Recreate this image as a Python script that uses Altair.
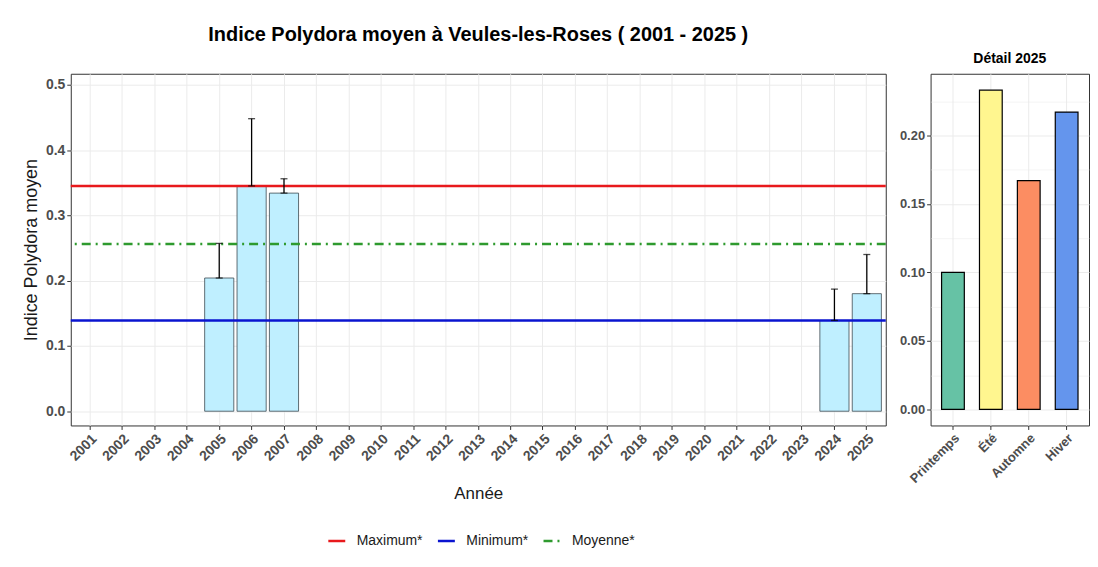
import altair as alt
import pandas as pd

FONT = "Liberation Sans"

# ---- data ----
years = [str(y) for y in range(2001, 2026)]
bar_years = ["2005", "2006", "2007", "2024", "2025"]
bar_means = [0.204, 0.345, 0.334, 0.139, 0.180]
bar_uppers = [0.257, 0.448, 0.356, 0.187, 0.240]

ref_labels = ["Maximum*", "Minimum*", "Moyenne*"]
ref_values = [0.345, 0.139, 0.256]
ref_colors = ["#E8191C", "#0A14D0", "#2E9A2E"]
ref_dashes = [[1, 0], [1, 0], [9, 5, 2, 5]]

seasons = ["Printemps", "Été", "Automne", "Hiver"]
season_values = [0.100, 0.233, 0.167, 0.217]
season_colors = ["#66C2A5", "#FFF68F", "#FC8D62", "#6495ED"]

main_grid = [0.0, 0.05, 0.1, 0.15, 0.2, 0.25, 0.3, 0.35, 0.4, 0.45, 0.5]
det_grid = [0.0, 0.025, 0.05, 0.075, 0.1, 0.125, 0.15, 0.175, 0.2, 0.225]

bars_df = pd.DataFrame({"annee": bar_years, "moyen": bar_means, "haut": bar_uppers})
ref_df = pd.DataFrame({"type": ref_labels, "valeur": ref_values})
det_df = pd.DataFrame({"saison": seasons, "valeur": season_values})

# ---- main panel ----
major_main = "round(datum.value*100) % 10 == 0"
xmain = alt.Scale(domain=years, paddingInner=0.1, paddingOuter=0.135)
ymain = alt.Scale(domain=[-0.0218, 0.5168], nice=False, zero=False)

x_axis = alt.Axis(
    title="Année", labelAngle=-45, labelAlign="right", labelBaseline="top",
    labelFontSize=14, titleFontSize=17, titlePadding=22, labelPadding=2, grid=True,
)
y_axis = alt.Axis(
    title="Indice Polydora moyen", values=main_grid, format=".1f",
    labelExpr=f"({major_main}) ? datum.label : ''",
    gridWidth={"condition": {"test": major_main, "value": 1}, "value": 0.5},
    tickOpacity={"condition": {"test": major_main, "value": 1}, "value": 0},
    labelFontSize=14, titleFontSize=18, titlePadding=5,
)

base = alt.Chart(bars_df)
bars = base.mark_bar(fill="#BFEFFF", stroke="#3d4a50", strokeWidth=0.8).encode(
    x=alt.X("annee:N", scale=xmain, axis=x_axis, sort=years),
    y=alt.Y("moyen:Q", scale=ymain, axis=y_axis),
)
err = base.mark_rule(color="black", strokeWidth=1.3).encode(
    x=alt.X("annee:N", sort=years), y="moyen:Q", y2="haut:Q"
)
cap_top = base.mark_tick(color="black", thickness=1.3, size=7).encode(
    x=alt.X("annee:N", sort=years), y="haut:Q"
)
cap_bot = base.mark_tick(color="black", thickness=1.3, size=7).encode(
    x=alt.X("annee:N", sort=years), y="moyen:Q"
)

leg = alt.Legend(
    title=None, orient="none", direction="horizontal", legendX=257, legendY=459,
    symbolType="stroke", symbolSize=289, symbolStrokeWidth=2.5,
    labelFontSize=14, labelFont=FONT, labelColor="#1a1a1a", labelOffset=10,
    columnPadding=9,
)
refs = alt.Chart(ref_df).mark_rule(strokeWidth=2.6).encode(
    y=alt.Y("valeur:Q"),
    color=alt.Color("type:N", scale=alt.Scale(domain=ref_labels, range=ref_colors), legend=leg),
    strokeDash=alt.StrokeDash("type:N", scale=alt.Scale(domain=ref_labels, range=ref_dashes), legend=leg),
)

main = alt.layer(bars, refs, err, cap_top, cap_bot).properties(
    width=818, height=353,
    title=alt.TitleParams(
        "Indice Polydora moyen à Veules-les-Roses ( 2001 - 2025 )",
        fontSize=20, fontWeight="bold", font=FONT, anchor="middle", offset=29, color="black",
    ),
)

# ---- detail panel ----
major_det = "round(datum.value*1000) % 50 == 0"
detail = alt.Chart(det_df).mark_bar(stroke="black", strokeWidth=1.2).encode(
    x=alt.X(
        "saison:N", sort=seasons,
        scale=alt.Scale(domain=seasons, paddingInner=0.4, paddingOuter=0.29),
        axis=alt.Axis(title=None, labelAngle=-45, labelAlign="right", labelBaseline="top",
                      labelFontSize=13, labelPadding=2, grid=True),
    ),
    y=alt.Y(
        "valeur:Q",
        scale=alt.Scale(domain=[-0.0117, 0.245], nice=False, zero=False),
        axis=alt.Axis(
            title=None, values=det_grid, format=".2f",
            labelExpr=f"({major_det}) ? datum.label : ''",
            gridWidth={"condition": {"test": major_det, "value": 1}, "value": 0.5},
            tickOpacity={"condition": {"test": major_det, "value": 1}, "value": 0},
            labelFontSize=13,
        ),
    ),
    fill=alt.Fill("saison:N", scale=alt.Scale(domain=seasons, range=season_colors), legend=None),
).properties(
    width=159, height=353,
    title=alt.TitleParams("Détail 2025", fontSize=14, fontWeight="bold", font=FONT,
                          anchor="middle", offset=8, color="black"),
)

chart = alt.hconcat(main, detail, spacing=11).properties(
    padding={"left": 14, "top": 15, "right": 0, "bottom": 0},
    background="white",
).configure_view(
    stroke="#333333", strokeWidth=1,
).configure_axis(
    domain=False, tickColor="#333333", tickSize=4, tickWidth=1,
    labelColor="#4d4d4d", labelFontWeight="bold", labelFont=FONT,
    titleFont=FONT, titleFontWeight="normal", titleColor="#1a1a1a",
    gridColor="#EBEBEB",
).configure_axisX(
    bandPosition=0.5,
)

chart.save("out.html", embed_options={"renderer": "svg", "actions": False})
